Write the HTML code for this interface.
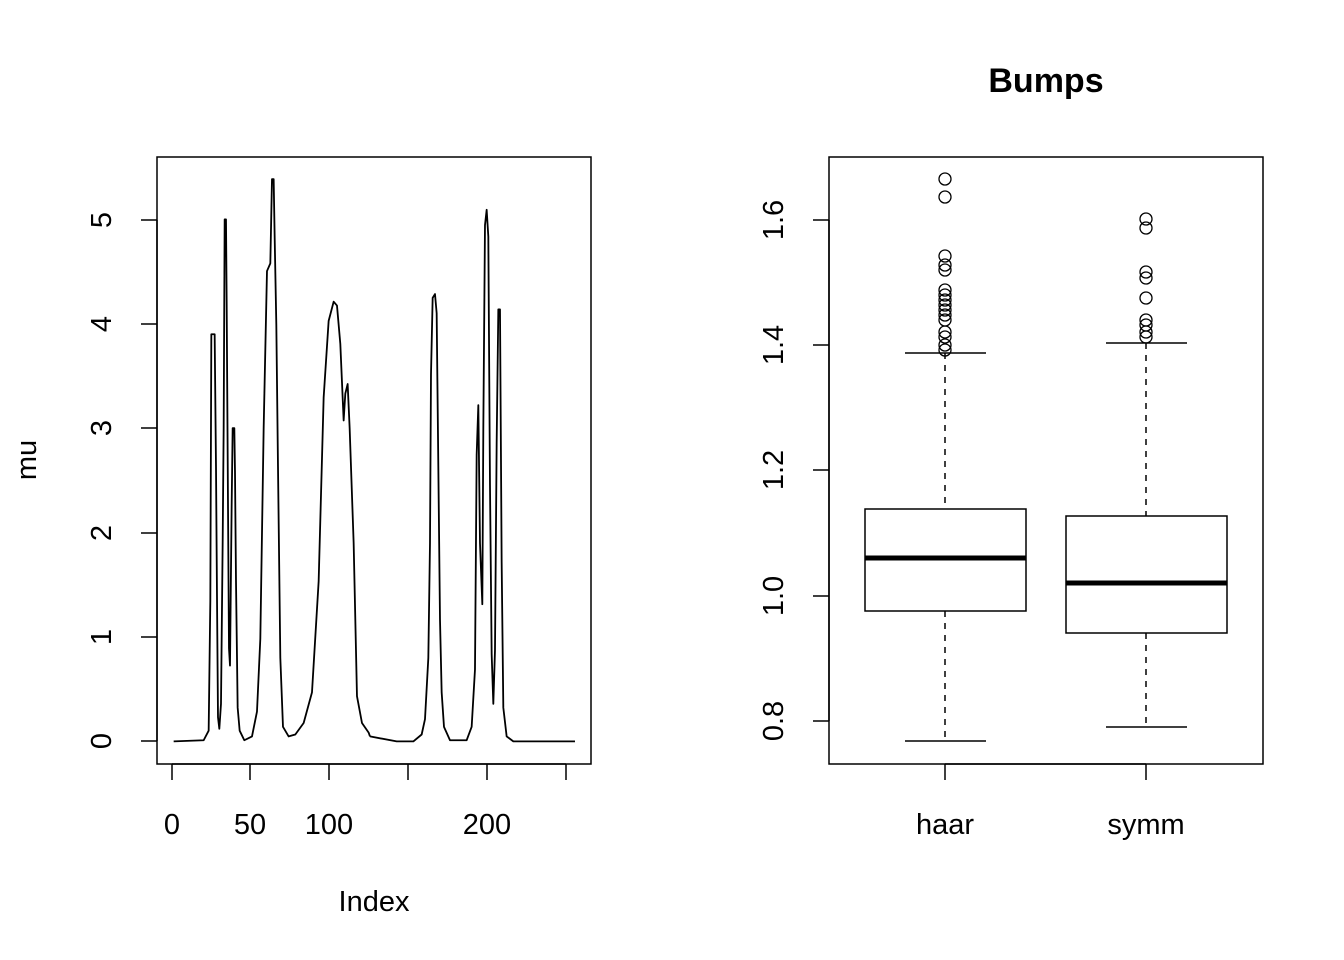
<!DOCTYPE html>
<html><head><style>body{margin:0;background:#fff}svg{display:block}text{font-family:"Liberation Sans",Arial,sans-serif;fill:#000}</style></head><body>
<svg width="1344" height="960" viewBox="0 0 1344 960" xmlns="http://www.w3.org/2000/svg">
<rect width="1344" height="960" fill="#fff"/>
<rect x="157" y="157" width="434" height="607" fill="none" stroke="#000" stroke-width="1.5"/>
<g fill="none" stroke="#000" stroke-width="1.8" stroke-linejoin="round">
<polyline vector-effect="non-scaling-stroke" transform="translate(157,160) scale(0.3333,0.383)" points="50,1518 140,1515 155,1490 160,1150 163,455 173,455 177,800 180,1140 183,1455 187,1485 192,1420 197,1000 200,700 203,155 207,155 209,370 213,900 216,1275 219,1320 224,900 227,700 232,700 234,815 237,1100 242,1430 248,1490 262,1515 285,1505 300,1440 310,1250 320,700 330,290 340,270 345,50 350,50 353,200 358,430 363,800 370,1300 378,1480 395,1505 415,1500 440,1470 465,1390 485,1100 500,620 515,420 530,370 540,380 550,480 560,680 565,610 572,585 578,700 590,1000 600,1400 615,1470 635,1495 639,1505"/>
<polyline vector-effect="non-scaling-stroke" transform="translate(370,160) scale(0.3333,0.383)" points="0,1505 80,1518 130,1518 155,1500 165,1460 175,1300 180,1000 183,560 188,360 195,350 200,400 205,800 210,1200 215,1390 222,1480 240,1515 290,1515 305,1480 315,1330 320,770 325,640 330,1000 337,1160 340,700 345,170 350,130 355,200 360,850 365,1290 370,1420 375,1280 380,740 385,390 390,390 395,1050 400,1430 410,1505 430,1518 615,1518"/>
</g>
<g stroke="#000" stroke-width="1.5">
<line x1="172" y1="764" x2="566" y2="764"/>
<line x1="172" y1="764" x2="172" y2="780"/><line x1="250" y1="764" x2="250" y2="780"/><line x1="329" y1="764" x2="329" y2="780"/><line x1="408" y1="764" x2="408" y2="780"/><line x1="487" y1="764" x2="487" y2="780"/><line x1="566" y1="764" x2="566" y2="780"/>
<line x1="157" y1="220" x2="157" y2="741"/>
<line x1="141" y1="741" x2="157" y2="741"/><line x1="141" y1="637" x2="157" y2="637"/><line x1="141" y1="533" x2="157" y2="533"/><line x1="141" y1="428" x2="157" y2="428"/><line x1="141" y1="324" x2="157" y2="324"/><line x1="141" y1="220" x2="157" y2="220"/>
</g>
<g font-size="29" text-anchor="middle">
<text x="172" y="834">0</text><text x="250" y="834">50</text><text x="329" y="834">100</text><text x="487" y="834">200</text>
<text x="374" y="911">Index</text>
<text transform="translate(111,741) rotate(-90)">0</text>
<text transform="translate(111,637) rotate(-90)">1</text>
<text transform="translate(111,533) rotate(-90)">2</text>
<text transform="translate(111,428) rotate(-90)">3</text>
<text transform="translate(111,324) rotate(-90)">4</text>
<text transform="translate(111,220) rotate(-90)">5</text>
<text transform="translate(36,460) rotate(-90)">mu</text>
</g>
<text x="1046" y="92" font-size="34" font-weight="bold" text-anchor="middle">Bumps</text>
<rect x="829" y="157" width="434" height="607" fill="none" stroke="#000" stroke-width="1.5"/>
<g stroke="#000" stroke-width="1.5" fill="none">
<line x1="813" y1="721" x2="829" y2="721"/><line x1="813" y1="596" x2="829" y2="596"/><line x1="813" y1="470" x2="829" y2="470"/><line x1="813" y1="345" x2="829" y2="345"/><line x1="813" y1="220" x2="829" y2="220"/>
<line x1="829" y1="220" x2="829" y2="721"/>
<line x1="945" y1="764" x2="945" y2="780"/><line x1="1146" y1="764" x2="1146" y2="780"/>
<line x1="945" y1="764" x2="1146" y2="764"/>
<line x1="945" y1="353" x2="945" y2="509" stroke-dasharray="6,6"/>
<line x1="945" y1="611" x2="945" y2="741" stroke-dasharray="6,6"/>
<line x1="905" y1="353" x2="986" y2="353"/><line x1="905" y1="741" x2="986" y2="741"/>
<rect x="865" y="509" width="161" height="102"/>
<line x1="865" y1="558" x2="1026" y2="558" stroke-width="5"/>
<line x1="1146" y1="343" x2="1146" y2="516" stroke-dasharray="6,6"/>
<line x1="1146" y1="633" x2="1146" y2="727" stroke-dasharray="6,6"/>
<line x1="1106" y1="343" x2="1187" y2="343"/><line x1="1106" y1="727" x2="1187" y2="727"/>
<rect x="1066" y="516" width="161" height="117"/>
<line x1="1066" y1="583" x2="1227" y2="583" stroke-width="5"/>
<g stroke-width="1.3">
<circle cx="945" cy="179" r="6"/><circle cx="945" cy="197" r="6"/><circle cx="945" cy="256" r="6"/><circle cx="945" cy="265" r="6"/><circle cx="945" cy="270" r="6"/><circle cx="945" cy="290" r="6"/><circle cx="945" cy="295" r="6"/><circle cx="945" cy="300" r="6"/><circle cx="945" cy="305" r="6"/><circle cx="945" cy="310" r="6"/><circle cx="945" cy="315" r="6"/><circle cx="945" cy="320" r="6"/><circle cx="945" cy="332" r="6"/><circle cx="945" cy="337" r="6"/><circle cx="945" cy="345" r="6"/><circle cx="945" cy="350" r="6"/>
<circle cx="1146" cy="219" r="6"/><circle cx="1146" cy="228" r="6"/><circle cx="1146" cy="272" r="6"/><circle cx="1146" cy="278" r="6"/><circle cx="1146" cy="298" r="6"/><circle cx="1146" cy="320" r="6"/><circle cx="1146" cy="325" r="6"/><circle cx="1146" cy="332" r="6"/><circle cx="1146" cy="337" r="6"/>
</g>
</g>
<g font-size="29" text-anchor="middle">
<text x="945" y="834">haar</text><text x="1146" y="834">symm</text>
<text transform="translate(783,721) rotate(-90)">0.8</text>
<text transform="translate(783,596) rotate(-90)">1.0</text>
<text transform="translate(783,470) rotate(-90)">1.2</text>
<text transform="translate(783,345) rotate(-90)">1.4</text>
<text transform="translate(783,220) rotate(-90)">1.6</text>
</g>
</svg>
</body></html>
